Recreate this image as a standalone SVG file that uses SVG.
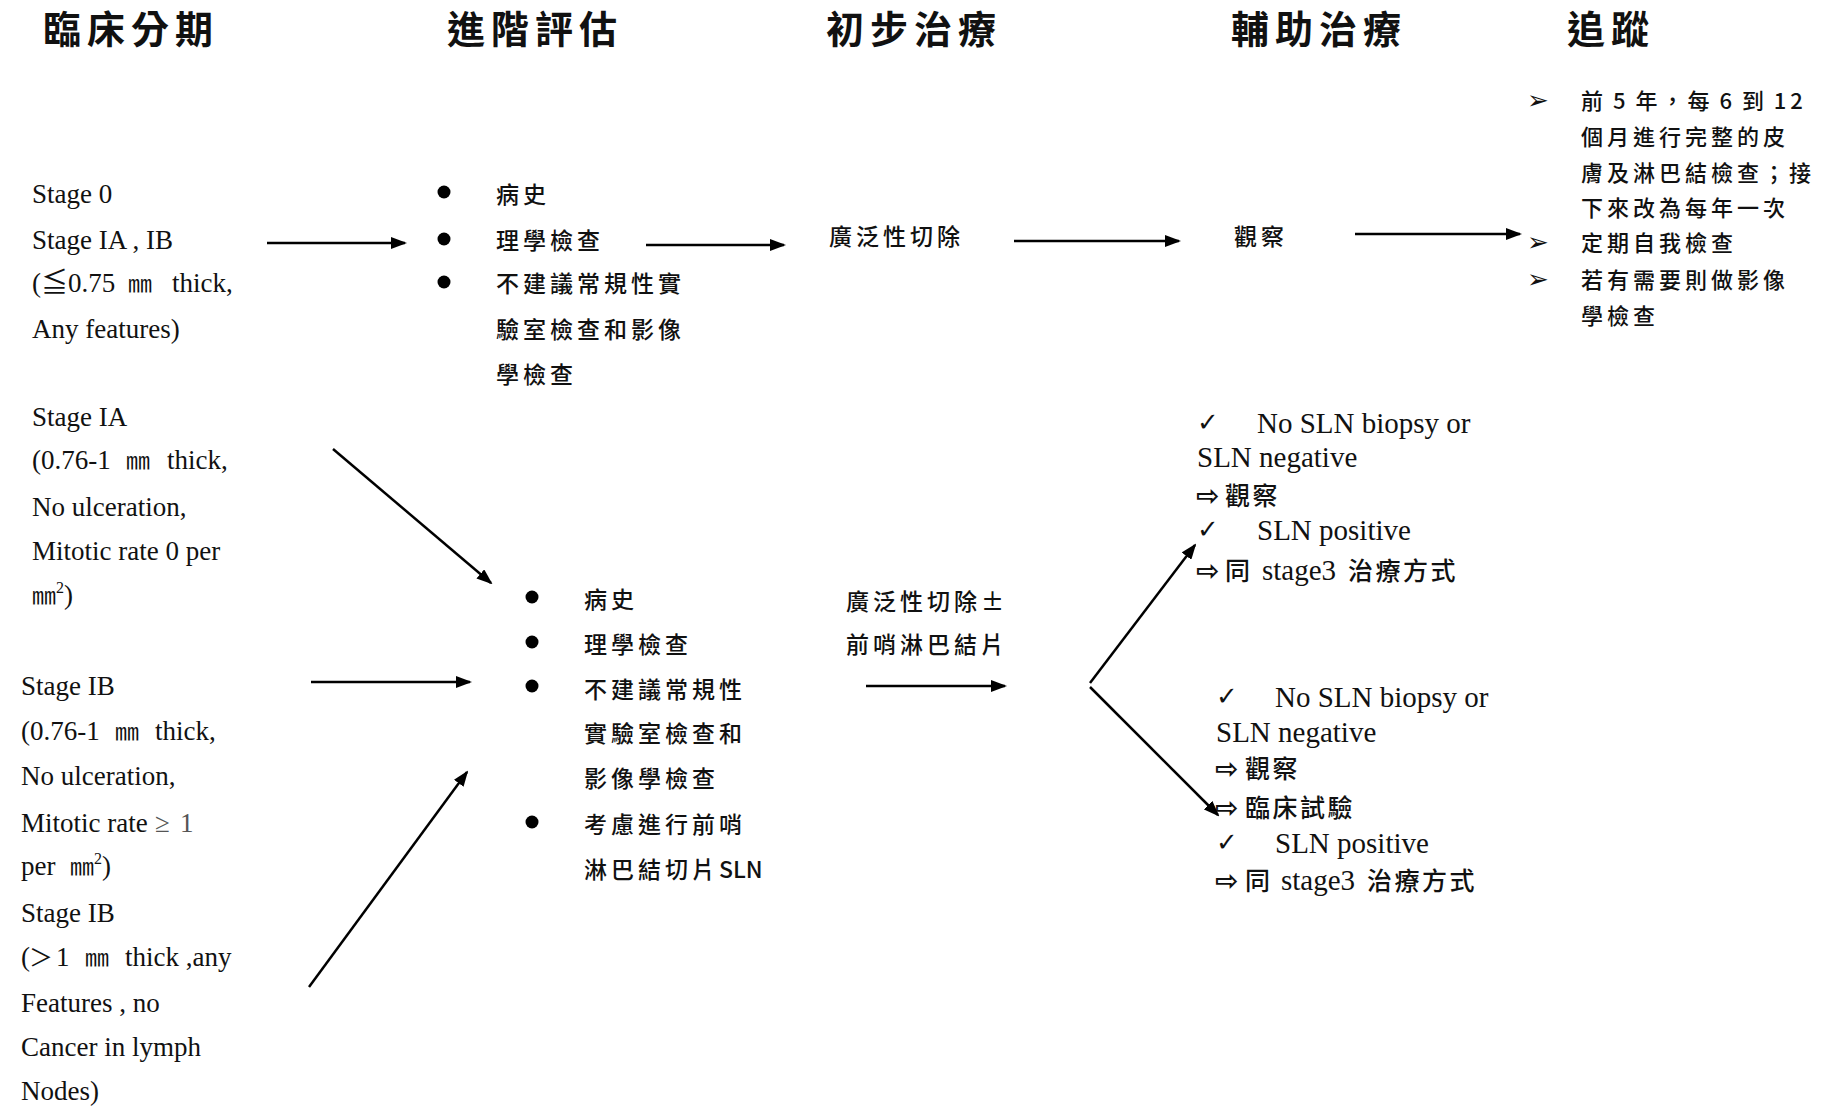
<svg xmlns="http://www.w3.org/2000/svg" width="1843" height="1107" viewBox="0 0 1843 1107">
<style>
text{fill:#111}
.h{font-family:"Noto Sans CJK TC",sans-serif;font-size:38px;font-weight:700;letter-spacing:6px}
.en{font-family:"Liberation Serif","Noto Sans CJK TC",serif;font-size:27px}
.en2{font-family:"Liberation Serif","Noto Sans CJK TC",serif;font-size:29px}
.zh{font-family:"Noto Sans CJK TC",sans-serif;font-size:23px;letter-spacing:4px;font-weight:500}
.fu{font-family:"Noto Sans CJK TC",sans-serif;font-size:22px;letter-spacing:4px;font-weight:500}
.zh2{font-family:"Noto Sans CJK TC",sans-serif;font-size:25px;letter-spacing:2.5px;font-weight:500}
.mm{font-family:"Noto Sans CJK TC",sans-serif;font-size:24px}
.sup{font-size:16px}
.sym{font-family:"DejaVu Sans",sans-serif;font-size:26px}
.arr{font-family:"DejaVu Sans",sans-serif;font-size:28px;font-weight:700}
.dot{fill:#000}
.conn line{stroke:#000;stroke-width:2.5;fill:none;marker-end:url(#ah)}
</style>
<defs>
<marker id="ah" markerUnits="userSpaceOnUse" markerWidth="16" markerHeight="12" refX="14" refY="6" orient="auto">
<path d="M0,0 L16,6 L0,12 Z" fill="#000"/>
</marker>
</defs>
<rect width="1843" height="1107" fill="#fff"/>

<g id="headers">
<text class="h" x="43" y="43">臨床分期</text>
<text class="h" x="447" y="43">進階評估</text>
<text class="h" x="826" y="43">初步治療</text>
<text class="h" x="1231" y="43">輔助治療</text>
<text class="h" x="1567" y="43">追蹤</text>
</g>

<g id="stage0">
<text class="en" x="32" y="203">Stage 0</text>
<text class="en" x="32" y="249">Stage IA , IB</text>
<text class="en" x="32" y="292">(≦0.75<tspan class="mm" x="128">㎜</tspan><tspan x="172">thick,</tspan></text>
<text class="en" x="32" y="338">Any features)</text>
</g>

<g id="eval1">
<circle class="dot" cx="444" cy="192" r="6.5"/>
<circle class="dot" cx="444" cy="239" r="6.5"/>
<circle class="dot" cx="444" cy="282" r="6.5"/>
<text class="zh" x="496" y="203">病史</text>
<text class="zh" x="496" y="249">理學檢查</text>
<text class="zh" x="496" y="292">不建議常規性實</text>
<text class="zh" x="496" y="338">驗室檢查和影像</text>
<text class="zh" x="496" y="383">學檢查</text>
</g>

<g id="treat1">
<text class="zh" x="829" y="245">廣泛性切除</text>
</g>

<g id="adj1">
<text class="zh" x="1234" y="245">觀察</text>
</g>

<g id="followup">
<text class="sym" x="1527" y="109">➢</text>
<text class="sym" x="1527" y="251">➢</text>
<text class="sym" x="1527" y="288">➢</text>
<text class="fu" x="1581" y="109" word-spacing="-3">前 5 年，每 6 到 12</text>
<text class="fu" x="1581" y="145">個月進行完整的皮</text>
<text class="fu" x="1581" y="181">膚及淋巴結檢查；接</text>
<text class="fu" x="1581" y="216">下來改為每年一次</text>
<text class="fu" x="1581" y="251">定期自我檢查</text>
<text class="fu" x="1581" y="288">若有需要則做影像</text>
<text class="fu" x="1581" y="324">學檢查</text>
</g>

<g id="stageIA">
<text class="en" x="32" y="426">Stage IA</text>
<text class="en" x="32" y="469">(0.76-1<tspan class="mm" x="126">㎜</tspan><tspan x="167">thick,</tspan></text>
<text class="en" x="32" y="516">No ulceration,</text>
<text class="en" x="32" y="560">Mitotic rate 0 per</text>
<text class="en" x="32" y="604"><tspan class="mm">㎜</tspan><tspan class="sup" dy="-11">2</tspan><tspan dy="11">)</tspan></text>
</g>

<g id="stageIB">
<text class="en" x="21" y="695">Stage IB</text>
<text class="en" x="21" y="740">(0.76-1<tspan class="mm" x="115">㎜</tspan><tspan x="155">thick,</tspan></text>
<text class="en" x="21" y="785">No ulceration,</text>
<text class="en" x="21" y="832">Mitotic rate<tspan x="155" fill="#555">≥</tspan><tspan x="180" fill="#555">1</tspan></text>
<text class="en" x="21" y="875">per<tspan class="mm" x="70">㎜</tspan><tspan class="sup" dy="-11">2</tspan><tspan dy="11">)</tspan></text>
<text class="en" x="21" y="922">Stage IB</text>
<text class="en" x="21" y="966">(<tspan class="mm" x="29">＞</tspan><tspan x="56">1</tspan><tspan class="mm" x="85">㎜</tspan><tspan x="125">thick ,any</tspan></text>
<text class="en" x="21" y="1012">Features , no</text>
<text class="en" x="21" y="1056">Cancer in lymph</text>
<text class="en" x="21" y="1100">Nodes)</text>
</g>

<g id="eval2">
<circle class="dot" cx="532" cy="597" r="6.5"/>
<circle class="dot" cx="532" cy="642" r="6.5"/>
<circle class="dot" cx="532" cy="686" r="6.5"/>
<circle class="dot" cx="532" cy="822" r="6.5"/>
<text class="zh" x="584" y="608">病史</text>
<text class="zh" x="584" y="653">理學檢查</text>
<text class="zh" x="584" y="698">不建議常規性</text>
<text class="zh" x="584" y="742">實驗室檢查和</text>
<text class="zh" x="584" y="787">影像學檢查</text>
<text class="zh" x="584" y="833">考慮進行前哨</text>
<text class="zh" x="584" y="878">淋巴結切片<tspan letter-spacing="0">SLN</tspan></text>
</g>

<g id="treat2">
<text class="zh" x="846" y="610">廣泛性切除±</text>
<text class="zh" x="846" y="653">前哨淋巴結片</text>
</g>

<g id="adj2">
<text class="sym" x="1197" y="431">✓</text>
<text class="en2" x="1257" y="433">No SLN biopsy or</text>
<text class="en2" x="1197" y="467">SLN negative</text>
<text class="arr" x="1196" y="505">⇨</text>
<text class="zh2" x="1225" y="505">觀察</text>
<text class="sym" x="1197" y="538">✓</text>
<text class="en2" x="1257" y="540">SLN positive</text>
<text class="arr" x="1196" y="580">⇨</text>
<text class="zh2" x="1225" y="580">同</text>
<text class="en2" x="1262" y="580">stage3</text>
<text class="zh2" x="1348" y="580">治療方式</text>
</g>

<g id="adj3">
<text class="sym" x="1216" y="705">✓</text>
<text class="en2" x="1275" y="707">No SLN biopsy or</text>
<text class="en2" x="1216" y="742">SLN negative</text>
<text class="arr" x="1215" y="778">⇨</text>
<text class="zh2" x="1245" y="778">觀察</text>
<text class="arr" x="1215" y="817">⇨</text>
<text class="zh2" x="1245" y="817">臨床試驗</text>
<text class="sym" x="1216" y="851">✓</text>
<text class="en2" x="1275" y="853">SLN positive</text>
<text class="arr" x="1215" y="890">⇨</text>
<text class="zh2" x="1245" y="890">同</text>
<text class="en2" x="1281" y="890">stage3</text>
<text class="zh2" x="1367" y="890">治療方式</text>
</g>

<g id="connectors" class="conn">
<line x1="267" y1="243" x2="405" y2="243"/>
<line x1="646" y1="245" x2="784" y2="245"/>
<line x1="1014" y1="241" x2="1179" y2="241"/>
<line x1="1355" y1="234" x2="1520" y2="234"/>
<line x1="333" y1="449" x2="491" y2="583"/>
<line x1="311" y1="682" x2="470" y2="682"/>
<line x1="309" y1="987" x2="467" y2="772"/>
<line x1="866" y1="686" x2="1005" y2="686"/>
<line x1="1090" y1="683" x2="1195" y2="545"/>
<line x1="1090" y1="687" x2="1218" y2="815"/>
</g>
</svg>
